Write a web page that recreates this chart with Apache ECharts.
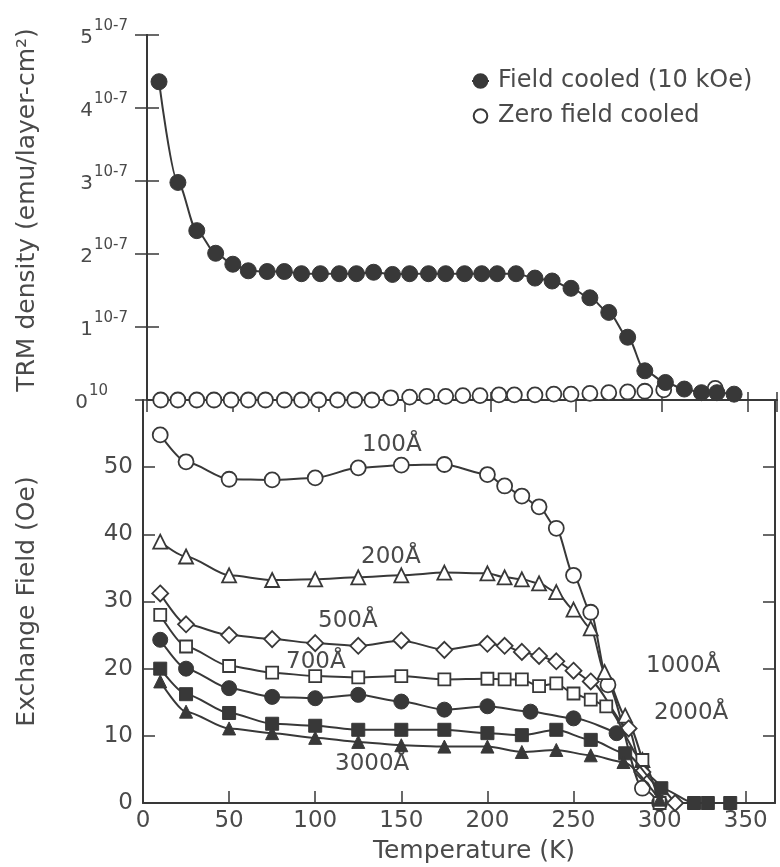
<!DOCTYPE html>
<html>
<head>
<meta charset="utf-8">
<script src="https://cdn.jsdelivr.net/npm/echarts@6/dist/echarts.min.js"></script>
<style>
  html, body { margin: 0; padding: 0; background: #fff; }
  #chart { width: 780px; height: 867px; }
</style>
</head>
<body>
<div id="chart"></div>
<script>
// TRM density (units of 1e-7 emu/layer-cm2), top panel
const tFC = [7, 18, 29, 40, 50, 59, 70, 80, 90, 101, 112, 122, 132, 143, 153, 164, 174, 185, 195, 204, 215, 226, 236, 247, 258, 269, 280, 290, 302, 313, 323, 332, 342]
const trmFC = [4.36, 2.98, 2.32, 2.01, 1.86, 1.77, 1.76, 1.76, 1.73, 1.73, 1.73, 1.73, 1.75, 1.72, 1.73, 1.73, 1.73, 1.73, 1.73, 1.73, 1.73, 1.67, 1.63, 1.53, 1.40, 1.20, 0.86, 0.40, 0.24, 0.15, 0.10, 0.10, 0.08]
const tZFC = [8, 18, 29, 39, 49, 59, 69, 80, 90, 100, 111, 121, 131, 142, 153, 163, 174, 184, 194, 205, 214, 226, 237, 247, 258, 269, 280, 290, 301, 331]
const trmZFC = [0, 0, 0, 0, 0, 0, 0, 0, 0, 0, 0, 0, 0, 0.03, 0.04, 0.05, 0.05, 0.06, 0.06, 0.07, 0.07, 0.07, 0.08, 0.08, 0.09, 0.10, 0.11, 0.12, 0.14, 0.16]

// Exchange field (Oe), bottom panel
const t100 = [10, 25, 50, 75, 100, 125, 150, 175, 200, 210, 220, 230, 240, 250, 260, 270, 290, 300]
const h100 = [54.8, 50.8, 48.2, 48.1, 48.4, 49.9, 50.3, 50.4, 48.9, 47.2, 45.7, 44.1, 40.9, 33.9, 28.4, 17.6, 2.2, 0]
const t200 = [10, 25, 50, 75, 100, 125, 150, 175, 200, 210, 220, 230, 240, 250, 260, 268, 280, 290]
const h200 = [38.9, 36.7, 33.9, 33.2, 33.3, 33.6, 33.9, 34.3, 34.2, 33.6, 33.3, 32.7, 31.4, 28.8, 26.0, 19.5, 13.0, 6.4]
const t500 = [10, 25, 50, 75, 100, 125, 150, 175, 200, 210, 220, 230, 240, 250, 260, 282, 290, 309]
const h500 = [31.2, 26.6, 25.0, 24.4, 23.8, 23.4, 24.2, 22.8, 23.7, 23.4, 22.5, 21.9, 21.1, 19.7, 18.1, 11.1, 4.6, 0]
const t700 = [10, 25, 50, 75, 100, 125, 150, 175, 200, 210, 220, 230, 240, 250, 260, 269, 290, 300]
const h700 = [28.0, 23.3, 20.4, 19.4, 18.9, 18.7, 18.9, 18.4, 18.5, 18.4, 18.4, 17.4, 17.8, 16.3, 15.4, 14.4, 6.4, 0]
const t1000 = [10, 25, 50, 75, 100, 125, 150, 175, 200, 225, 250, 275]
const h1000 = [24.3, 20.0, 17.1, 15.8, 15.6, 16.1, 15.1, 13.9, 14.4, 13.6, 12.6, 10.4]
const t2000 = [10, 25, 50, 75, 100, 125, 150, 175, 200, 220, 240, 260, 280, 301, 320, 328, 341]
const h2000 = [20.0, 16.2, 13.4, 11.8, 11.5, 10.9, 10.9, 10.9, 10.4, 10.1, 10.9, 9.4, 7.4, 2.2, 0, 0, 0]
const t3000 = [10, 25, 50, 75, 100, 125, 150, 175, 200, 220, 240, 260, 279, 300]
const h3000 = [18.1, 13.6, 11.1, 10.4, 9.7, 9.1, 8.6, 8.4, 8.4, 7.6, 7.9, 7.1, 6.1, 0.5]

const ink = '#383838'
const txt = '#4a4a4a'
const font = 'DejaVu Sans'

const pairs = (xs, ys) => xs.map((x, i) => [x, ys[i]])

const axisLine = { show: true, lineStyle: { color: ink, width: 2 } }
const tickIn = { show: true, inside: true, length: 12, lineStyle: { color: ink, width: 1.5 } }

function curve(name, xs, ys, symbol, size, filled) {
  return {
    name,
    type: 'line',
    xAxisIndex: 2,
    yAxisIndex: 2,
    data: pairs(xs, ys),
    smooth: 0.25,
    smoothMonotone: 'x',
    symbol,
    symbolSize: size,
    showAllSymbol: true,
    lineStyle: { color: ink, width: 2 },
    itemStyle: filled
      ? { color: ink, borderColor: ink, borderWidth: 1 }
      : { color: '#fff', borderColor: ink, borderWidth: 1.8 },
    z: filled ? 3 : 2
  }
}

// curve labels, placed by hand like the printed annotations
function tag(text, left, top) {
  return { type: 'text', left, top, style: { text, font: '23px "DejaVu Sans"', fill: txt } }
}

const chart = echarts.init(document.getElementById('chart'))

chart.setOption({
  backgroundColor: '#fff',
  animation: false,
  textStyle: { fontFamily: font, color: txt },
  grid: [
    { left: 147, right: 3, top: 35, height: 365 },
    { left: 143, right: 5, top: 400, height: 403 }
  ],
  legend: {
    data: ['Field cooled (10 kOe)', 'Zero field cooled'],
    orient: 'vertical',
    left: 466,
    top: 64,
    itemWidth: 17,
    itemHeight: 17,
    itemGap: 11,
    textStyle: { fontSize: 24, color: txt, fontFamily: font, padding: [0, 0, 0, 4] }
  },
  xAxis: [
    {
      gridIndex: 0, type: 'value', min: 0, max: 367, interval: 50,
      axisLine, axisTick: { ...tickIn, length: 8 }, axisLabel: { show: false }, splitLine: { show: false }
    },
    {
      gridIndex: 0, type: 'value', position: 'top', min: 0, max: 367, interval: 50,
      axisLine, axisTick: tickIn, axisLabel: { show: false }, splitLine: { show: false }
    },
    {
      gridIndex: 1, type: 'value', min: 0, max: 367, interval: 50,
      axisLine, axisTick: tickIn, splitLine: { show: false },
      axisLabel: { margin: 7, fontSize: 23, color: txt, fontFamily: font, showMaxLabel: false },
      name: 'Temperature (K)',
      nameLocation: 'middle',
      nameGap: 36,
      nameTextStyle: { fontSize: 25, color: txt, fontFamily: font, padding: [0, 0, 0, 30] }
    }
  ],
  yAxis: [
    {
      gridIndex: 0, type: 'value', min: 0, max: 5, interval: 1,
      axisLine, axisTick: tickIn, splitLine: { show: false },
      axisLabel: {
        margin: 19,
        formatter: v => (v === 0 ? '{a|0}{b|10}{p|}' : '{a|' + v + '}{b|10-7}'),
        rich: {
          a: { fontSize: 20, color: txt, fontFamily: font, padding: [6, 0, 0, 0] },
          b: { fontSize: 15, color: txt, fontFamily: font, padding: [0, 0, 18, 1] },
          p: { width: 20 }
        }
      },
      name: 'TRM density (emu/layer-cm²)',
      nameLocation: 'middle',
      nameGap: 107,
      nameRotate: 90,
      nameTextStyle: { fontSize: 25, color: txt, fontFamily: font, padding: [0, 0, 0, 15] }
    },
    {
      gridIndex: 0, type: 'value', position: 'right', min: 0, max: 5, interval: 1,
      axisLine, axisTick: tickIn, axisLabel: { show: false }, splitLine: { show: false }
    },
    {
      gridIndex: 1, type: 'value', min: 0, max: 60, interval: 10,
      axisLine, axisTick: tickIn, splitLine: { show: false },
      axisLabel: {
        margin: 10, fontSize: 23, color: txt, fontFamily: font,
        formatter: v => (v === 60 ? '' : String(v))
      },
      name: 'Exchange Field (Oe)',
      nameLocation: 'middle',
      nameGap: 103,
      nameRotate: 90,
      nameTextStyle: { fontSize: 25, color: txt, fontFamily: font }
    },
    {
      gridIndex: 1, type: 'value', position: 'right', min: 0, max: 60, interval: 10,
      axisLine, axisTick: tickIn, axisLabel: { show: false }, splitLine: { show: false }
    }
  ],
  graphic: [
    tag('100Å', 362, 434),
    tag('200Å', 361, 546),
    tag('500Å', 318, 610),
    tag('700Å', 286, 651),
    tag('1000Å', 646, 655),
    tag('2000Å', 654, 702),
    tag('3000Å', 335, 753)
  ],
  series: [
    {
      name: 'Zero field cooled',
      type: 'line',
      xAxisIndex: 0,
      yAxisIndex: 0,
      data: pairs(tZFC, trmZFC),
      symbol: 'circle',
      symbolSize: 15,
      showAllSymbol: true,
      lineStyle: { width: 0, opacity: 0 },
      itemStyle: { color: '#fff', borderColor: ink, borderWidth: 1.8 },
      z: 2
    },
    {
      name: 'Field cooled (10 kOe)',
      type: 'line',
      xAxisIndex: 0,
      yAxisIndex: 0,
      data: pairs(tFC, trmFC),
      smooth: 0.3,
      smoothMonotone: 'x',
      symbol: 'circle',
      symbolSize: 16,
      showAllSymbol: true,
      lineStyle: { color: ink, width: 2 },
      itemStyle: { color: ink, borderColor: ink, borderWidth: 1 },
      z: 3
    },
    curve('100Å', t100, h100, 'circle', 15, false),
    curve('200Å', t200, h200, 'triangle', 14, false),
    curve('500Å', t500, h500, 'diamond', 16, false),
    curve('700Å', t700, h700, 'rect', 12, false),
    curve('1000Å', t1000, h1000, 'circle', 15, true),
    curve('2000Å', t2000, h2000, 'rect', 13, true),
    curve('3000Å', t3000, h3000, 'triangle', 13, true)
  ]
})
</script>
</body>
</html>
